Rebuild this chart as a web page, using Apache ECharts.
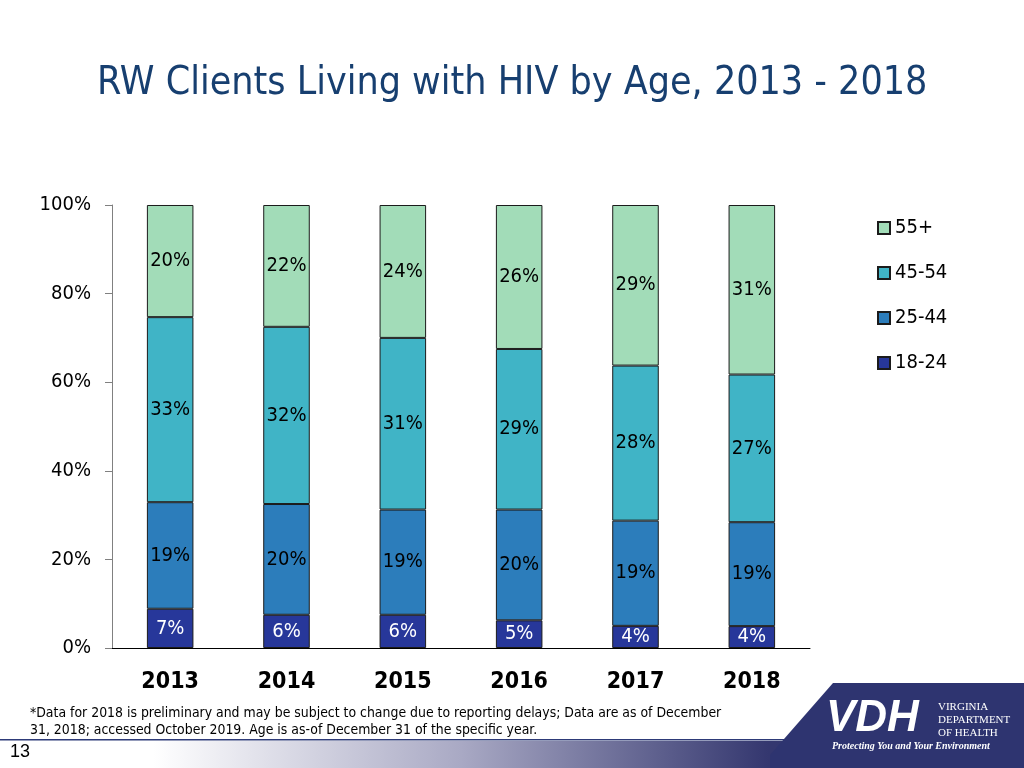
<!DOCTYPE html>
<html>
<head>
<meta charset="utf-8">
<script src="https://cdn.jsdelivr.net/npm/echarts@6/dist/echarts.min.js"></script>
<style>
html,body{margin:0;padding:0;background:#fff;}
#c{width:1024px;height:768px;}
</style>
</head>
<body>
<div id="c"></div>
<script>
// ---- data ----
var years = ['2013', '2014', '2015', '2016', '2017', '2018'];
var age1824 = [7, 6, 6, 5, 4, 4];
var age2544 = [19, 20, 19, 20, 19, 19];
var age4554 = [33, 32, 31, 29, 28, 27];
var age55p  = [20, 22, 24, 26, 29, 31];
var seriesNames = ['18-24', '25-44', '45-54', '55+'];
var yTicks = [0, 20, 40, 60, 80, 100];

var FONT = '"DejaVu Sans Condensed", "DejaVu Sans", sans-serif';
var colors = ['#27379A', '#2C7DBB', '#40B4C6', '#A2DCB8'];
var raw = [age1824, age2544, age4554, age55p];

// 100% stacked: each bar scaled to its own total
var totals = years.map(function (_, i) {
  return raw.reduce(function (s, arr) { return s + arr[i]; }, 0);
});

var chart = echarts.init(document.getElementById('c'), null, {renderer: 'canvas'});

var series = raw.map(function (arr, k) {
  return {
    name: seriesNames[k],
    type: 'bar',
    stack: 'age',
    barWidth: '40%',
    itemStyle: {color: colors[k], borderColor: '#1b1b1b', borderWidth: 1},
    label: {
      show: true,
      position: 'inside',
      fontFamily: FONT,
      fontSize: 20,
      color: k === 0 ? '#ffffff' : '#000000',
      formatter: function (p) { return arr[p.dataIndex] + '%'; }
    },
    emphasis: {disabled: true},
    data: arr.map(function (v, i) { return v / totals[i] * 100; })
  };
});

chart.setOption({
  animation: false,
  backgroundColor: '#ffffff',
  title: {
    text: 'RW Clients Living with HIV by Age, 2013 - 2018',
    left: 92, top: 59,
    textStyle: {fontFamily: FONT, fontSize: 39, fontWeight: 'normal', color: '#173F70'}
  },
  legend: {
    orient: 'vertical',
    left: 872, top: 213,
    itemGap: 25,
    itemWidth: 12, itemHeight: 12,
    icon: 'rect',
    data: ['55+', '45-54', '25-44', '18-24'],
    textStyle: {fontFamily: FONT, fontSize: 20, color: '#000'},
    selectedMode: false
  },
  grid: {left: 112, right: 214, top: 205, bottom: 120, containLabel: false},
  xAxis: {
    type: 'category',
    data: years,
    axisLine: {show: true, lineStyle: {color: '#000', width: 1}},
    axisTick: {show: false},
    axisLabel: {fontFamily: FONT, fontSize: 23, fontWeight: 'bold', color: '#000', margin: 23}
  },
  yAxis: {
    type: 'value',
    min: yTicks[0], max: yTicks[yTicks.length - 1], interval: 20,
    axisLine: {show: true, lineStyle: {color: '#808080', width: 1}},
    axisTick: {show: true, inside: false, length: 7, lineStyle: {color: '#808080'}},
    splitLine: {show: false},
    axisLabel: {fontFamily: FONT, fontSize: 20, color: '#000', margin: 21, formatter: '{value}%'}
  },
  series: series,
  graphic: [
    {type: 'text', left: 30, top: 705, style: {text: '*Data for 2018 is preliminary and may be subject to change due to reporting delays; Data are as of December\n31, 2018; accessed October 2019. Age is as-of December 31 of the specific year.', font: '13.9px ' + FONT, fill: '#000', lineHeight: 17}},
    {type: 'rect', shape: {x: 0, y: 739, width: 800, height: 1.5}, style: {fill: '#2D3A78'}},
    {type: 'rect', shape: {x: 0, y: 741, width: 1024, height: 27}, style: {fill: new echarts.graphic.LinearGradient(0, 0, 1, 0, [{offset: 0, color: '#ffffff'}, {offset: 0.15, color: '#ffffff'}, {offset: 0.45, color: '#A9A9C4'}, {offset: 0.75, color: '#34376F'}, {offset: 1, color: '#2E3470'}])}},
    {type: 'text', left: 10, top: 743, style: {text: '13', font: '18px "Liberation Sans", Arial, sans-serif', fill: '#000'}},
    {type: 'polygon', shape: {points: [[833, 683], [1024, 683], [1024, 768], [770, 768], [770, 755]]}, style: {fill: '#2E3470'}},
    {type: 'text', left: 826, top: 697, style: {text: 'VDH', font: 'italic bold 44px "Liberation Sans", sans-serif', fill: '#ffffff'}},
    {type: 'text', left: 938, top: 701, style: {text: 'VIRGINIA\nDEPARTMENT\nOF HEALTH', font: '11px "Liberation Serif", serif', fill: '#ffffff', lineHeight: 13}},
    {type: 'text', left: 832, top: 741, style: {text: 'Protecting You and Your Environment', font: 'italic bold 10px "Liberation Serif", serif', fill: '#ffffff'}}
  ]
});
</script>
</body>
</html>
